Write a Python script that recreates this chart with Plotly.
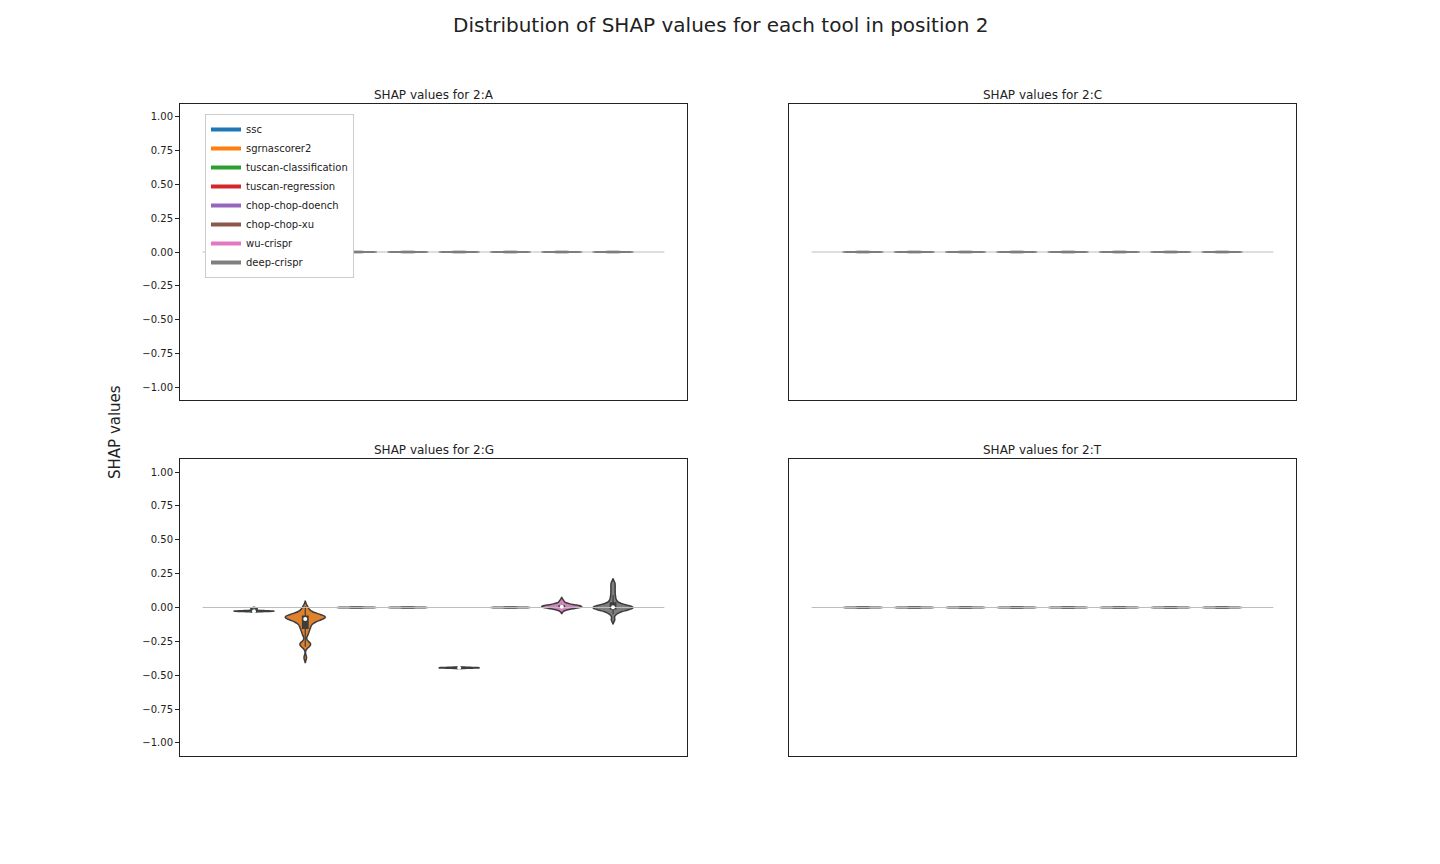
import numpy as np
import plotly.graph_objects as go

# ---------------- data ----------------
tools = ["ssc", "sgrnascorer2", "tuscan-classification", "tuscan-regression",
         "chop-chop-doench", "chop-chop-xu", "wu-crispr", "deep-crispr"]
legend_colors = ["#1f77b4", "#ff7f0e", "#2ca02c", "#d62728",
                 "#9467bd", "#8c564b", "#e377c2", "#7f7f7f"]
fill_colors = ["#3274a1", "#e1812c", "#3a923a", "#c03d3e",
               "#9372b2", "#845b53", "#d684bd", "#7f7f7f"]
nucleotides = ["A", "C", "G", "T"]
position = 2

zero_values = [0.0, 0.0, 0.0, 0.0, 0.0]

g_ssc = [-0.028, -0.027, -0.027, -0.027, -0.027, -0.027, -0.026, -0.025, -0.010, -0.004]
g_sgrnascorer2 = [0.01, -0.01, -0.025, -0.035, -0.045, -0.05, -0.055, -0.058, -0.06, -0.062,
                  -0.064, -0.066, -0.068, -0.07, -0.072, -0.074, -0.076, -0.078, -0.08, -0.083,
                  -0.086, -0.09, -0.095, -0.10, -0.105, -0.11, -0.12, -0.13, -0.14, -0.15,
                  -0.16, -0.175, -0.19, -0.21, -0.26, -0.265, -0.27, -0.28, -0.29, -0.37]
g_tuscan_classification = [0.0, 0.0, 0.0, 0.0, 0.0]
g_tuscan_regression = [0.0, 0.0, 0.0, 0.0, 0.0]
g_chop_chop_doench = [-0.446, -0.445, -0.445, -0.445, -0.444]
g_chop_chop_xu = [0.0, 0.0, 0.0, 0.0, 0.0]
g_wu_crispr = [-0.02, -0.005, 0.0, 0.0, 0.002, 0.004, 0.005, 0.005, 0.006, 0.008,
               0.01, 0.01, 0.012, 0.015, 0.02, 0.03, 0.05]
g_deep_crispr = [-0.09, -0.05, -0.035, -0.025, -0.02, -0.015, -0.01, -0.008, -0.005,
                 -0.003, 0.0, 0.0, 0.002, 0.005, 0.008, 0.01, 0.015, 0.02, 0.03,
                 0.045, 0.065, 0.09, 0.12, 0.15, 0.18]

g_bandwidths = [0.003, 0.018, 0.002, 0.002, 0.003, 0.002, 0.012, 0.015]
g_show_box = [True, True, False, False, True, False, True, True]

panel_values = {
    "A": [zero_values] * len(tools),
    "C": [zero_values] * len(tools),
    "G": [g_ssc, g_sgrnascorer2, g_tuscan_classification, g_tuscan_regression,
          g_chop_chop_doench, g_chop_chop_xu, g_wu_crispr, g_deep_crispr],
    "T": [zero_values] * len(tools),
}

yticks = [-1.0, -0.75, -0.5, -0.25, 0.0, 0.25, 0.5, 0.75, 1.0]

# ---------------- layout geometry ----------------
W, H = 1440, 864
col_dom = [(180 / W, 687 / W), (789 / W, 1296 / W)]
row_dom = [((864 - 400) / H, (864 - 104) / H), ((864 - 756) / H, (864 - 459) / H)]
edge = "#3d3d3d"
font = "DejaVu Sans"

fig = go.Figure()
layout = dict(
    width=W, height=H, autosize=False,
    margin=dict(l=0, r=0, t=0, b=0),
    paper_bgcolor="white", plot_bgcolor="white",
    violinmode="overlay", showlegend=True,
    font=dict(family=font, color="#222"),
)

annotations = []
n = len(tools)
for k, nuc in enumerate(nucleotides):
    r, c = divmod(k, 2)
    ax = "" if k == 0 else str(k + 1)
    xref, yref = "x" + ax, "y" + ax
    layout["xaxis" + ax] = dict(
        domain=col_dom[c], range=[-1.442, n - 1 + 1.442], anchor=yref,
        showticklabels=False, ticks="", showgrid=False, zeroline=False,
        showline=True, mirror=True, linecolor="#222", linewidth=1,
    )
    layout["yaxis" + ax] = dict(
        domain=row_dom[r], range=[-1.096, 1.096], anchor=xref,
        tickvals=yticks, tickformat=".2f",
        showticklabels=(c == 0), ticks="outside" if c == 0 else "",
        ticklen=4, tickwidth=1, tickcolor="#222",
        tickfont=dict(size=10, color="#222", family=font),
        showgrid=False, zeroline=False,
        showline=True, mirror=True, linecolor="#222", linewidth=1,
    )
    # reference line at zero
    fig.add_trace(go.Scatter(
        x=[-1, n], y=[0, 0], mode="lines", line=dict(color="#bdbdbd", width=1),
        xaxis=xref, yaxis=yref, showlegend=False, hoverinfo="skip"))
    for i, tool in enumerate(tools):
        vals = panel_values[nuc][i]
        show_box = g_show_box[i] if nuc == "G" else False
        bw = g_bandwidths[i] if nuc == "G" else 0.002
        fig.add_trace(go.Violin(
            x=[i] * len(vals), y=vals, name=tool, xaxis=xref, yaxis=yref,
            bandwidth=bw, spanmode="soft", scalemode="width", width=0.78,
            fillcolor=fill_colors[i], line=dict(color=edge, width=1.5),
            points=False, showlegend=False,
            box=dict(visible=show_box, width=0.14, fillcolor=edge,
                     line=dict(color=edge, width=1.2)),
            meanline=dict(visible=False),
        ))
        if show_box:
            fig.add_trace(go.Scatter(
                x=[i], y=[float(np.median(vals))], mode="markers",
                marker=dict(color="white", size=4, line=dict(color="white", width=0)),
                xaxis=xref, yaxis=yref, showlegend=False, hoverinfo="skip"))
    annotations.append(dict(
        text=f"SHAP values for {position}:{nuc}", xref="paper", yref="paper",
        x=sum(col_dom[c]) / 2, y=row_dom[r][1], xanchor="center",
        yanchor="bottom", showarrow=False, font=dict(size=12, color="#222", family=font)))

# legend handles (line style, like the reference)
for tool, col in zip(tools, legend_colors):
    fig.add_trace(go.Scatter(
        x=[None], y=[None], mode="lines", name=tool,
        line=dict(color=col, width=4), xaxis="x", yaxis="y"))

annotations.append(dict(
    text=f"Distribution of SHAP values for each tool in position {position}",
    xref="paper", yref="paper", x=0.5, y=(864 - 25) / H, xanchor="center",
    yanchor="middle", showarrow=False, font=dict(size=20, color="#222", family=font)))
annotations.append(dict(
    text="SHAP values", xref="paper", yref="paper", x=115 / W, y=0.5,
    xanchor="center", yanchor="middle", textangle=-90, showarrow=False,
    font=dict(size=15, color="#222", family=font)))

layout["annotations"] = annotations
layout["legend"] = dict(
    x=205 / W, y=(864 - 114) / H, xanchor="left", yanchor="top",
    bgcolor="white", bordercolor="#cccccc", borderwidth=1,
    font=dict(size=10, color="#222", family=font), itemwidth=30,
    tracegroupgap=0,
)
fig.update_layout(**layout)
fig.write_html("out.html")
